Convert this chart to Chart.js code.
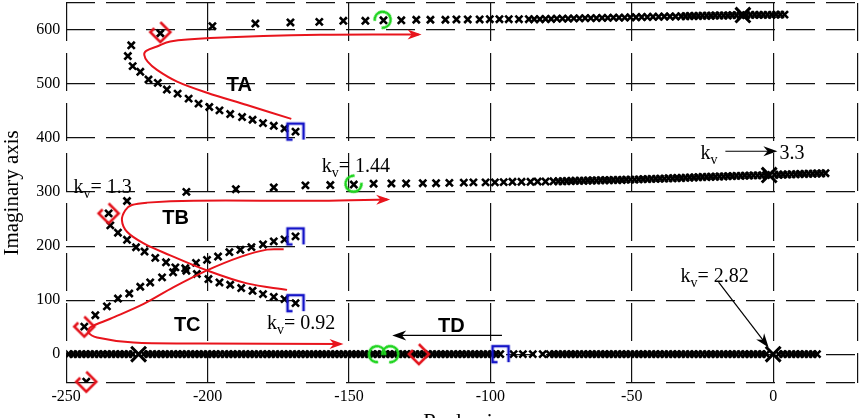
<!DOCTYPE html>
<html>
<head>
<meta charset="utf-8">
<title>Root locus</title>
<script src="https://cdn.jsdelivr.net/npm/chart.js@4.4.1/dist/chart.umd.min.js"></script>
<style>
  html, body { margin: 0; padding: 0; background: #fff; overflow: hidden; }
  #wrap { width: 868px; height: 450px; }
</style>
</head>
<body>
<div id="wrap"><canvas id="locus"></canvas></div>
<script>
// axis ticks (edge values get no label)
const xTicks = [-250, -200, -150, -100, -50, 0];
const yTicks = [0, 100, 200, 300, 400, 500, 600];
const xRange = [-250, 30];
const yRange = [-53, 650];

// locus TA : from the blue start point up and round to the top row
const branchA = [
  [-168.9, 412], [-172.8, 417.7], [-176.6, 422.7], [-180.4, 427.7], [-184.1, 433.9], [-187.8, 438.9],
  [-192, 444.5], [-195.8, 451.2], [-199.4, 457.5], [-203.2, 463.7], [-206.7, 473], [-210.6, 482.3],
  [-214.4, 489.8], [-217.6, 502.2], [-220.9, 508.4], [-223.8, 522.7], [-226.5, 533.1], [-228.2, 551.8],
  [-227, 571.7], [-216.7, 594], [-198.3, 607], [-183.1, 612], [-170.7, 614], [-160.5, 615], [-152, 617],
  [-144.2, 617], [-137.8, 618], [-131.5, 618], [-126.2, 619], [-121.2, 619], [-115.9, 619], [-112, 619.5],
  [-108, 619.5], [-103.8, 619.5], [-100.2, 620], [-96.8, 620], [-93.5, 620], [-89.9, 620], [-86.4, 620]
];
const topRow = [
  [-84.5, 620], [-82.5, 620], [-80.5, 620.5], [-78.5, 620.5], [-76.5, 621], [-74.5, 621], [-72.5, 621],
  [-70.5, 621.5], [-68.5, 621.5], [-66.5, 622], [-64.5, 622], [-62.5, 622], [-60.5, 622.5], [-58.5, 622.5],
  [-56.5, 623], [-54.5, 623], [-52.5, 623], [-50.5, 623.5], [-48.5, 623.5], [-46.5, 624], [-44.5, 624],
  [-42.5, 624.5], [-40.5, 624.5], [-38.5, 625], [-36.5, 625], [-34.5, 625], [-32.5, 625.5], [-31, 625.5],
  [-29.5, 626], [-28, 626], [-26.5, 626], [-25, 626.5], [-23.5, 626.5], [-22, 626.5], [-20.5, 627],
  [-19, 627], [-17.5, 627], [-16, 627], [-14.5, 627.5], [-13, 627.5], [-11.5, 627.5], [-9.5, 627.5],
  [-8, 628], [-6.5, 628], [-5, 628], [-3.5, 628], [-2, 628], [-0.5, 628], [1, 628.5], [2.5, 628.5], [4, 628.5]
];

// locus TB : lower blue point, up-left, then along the 300 row
const branchB = [
  [-168.9, 94.4], [-172.8, 101.9], [-176.6, 106.1], [-180.4, 111.2], [-184.1, 117.3], [-188.1, 122.4],
  [-192, 128.5], [-195.8, 132.8], [-199.7, 139.1], [-203.8, 148.4], [-207.5, 154.5], [-211.4, 160.7],
  [-214.7, 170], [-218.5, 178.2], [-222.3, 189.9], [-225.3, 197.9], [-228.5, 211.7], [-231.7, 224.8],
  [-234.4, 238.4], [-235, 260.6], [-228.5, 283.5], [-207.5, 300.4], [-190, 305.4], [-176.6, 308.6],
  [-165.4, 312.5], [-156.6, 313], [-148.3, 314], [-141.3, 315.5], [-135, 316], [-129.8, 316], [-123.9, 316.5],
  [-119.2, 316.5], [-114.5, 317], [-109.4, 317.5], [-106, 318], [-101.7, 318], [-98.4, 318], [-95.3, 318.5],
  [-92.2, 319], [-89, 319], [-85.8, 319], [-83.3, 319.5], [-80.5, 319.5], [-77.7, 320]
];
const midRow = [
  [-76, 320], [-74.5, 320], [-73, 320.5], [-71.5, 320.5], [-70, 321], [-68.5, 321], [-67, 321], [-65.5, 321.5],
  [-64, 321.5], [-62.5, 321.5], [-61, 322], [-59.5, 322], [-58, 322], [-56.5, 322.5], [-55, 322.5], [-53.5, 322.5],
  [-52, 323], [-50.5, 323], [-49, 323], [-47.5, 323.5], [-46, 324], [-44.5, 324], [-43, 324.5], [-41.5, 324.5],
  [-40, 325], [-38.5, 325], [-37, 325.5], [-35.5, 325.5], [-34, 326], [-32.5, 326], [-31, 326.5], [-29.5, 327],
  [-28, 327], [-26.5, 327.5], [-25, 328], [-23.5, 328], [-22, 328.5], [-20.5, 328.5], [-19, 329], [-17.5, 329],
  [-16, 329.5], [-14.5, 329.5], [-13, 330], [-11.5, 330], [-10, 330.5], [-8.5, 330.5], [-7, 331], [-5.5, 331],
  [-4, 331], [-2.5, 331.5], [0.5, 332], [2, 332], [3.5, 332.5], [5, 332.5], [6.5, 333], [8, 333], [9.5, 333.5],
  [11, 333.5], [12.5, 334], [14, 334], [15.5, 334.5], [17, 334.5], [18.5, 335]
];

// locus TC : upper blue point, down-left to the real axis
const branchC = [
  [-168.9, 218], [-172.8, 212.4], [-176.6, 208.7], [-180.4, 203.1], [-184.5, 198.1], [-188.4, 193.2],
  [-192.3, 188.8], [-196.3, 180.7], [-200.2, 174.6], [-204.1, 169], [-207.9, 158.9], [-212.2, 151.5],
  [-216.1, 142.2], [-220.3, 132.8], [-223.8, 124.8], [-227.7, 112.3], [-231.7, 103], [-235.6, 88.5],
  [-239.7, 72.1], [-243.6, 51], [-242.9, -51]
];

// locus TD : real axis (imaginary part 0)
const realAxis = [
  -249, -247.5, -246, -244.5, -243, -241.5, -240, -238.5, -237, -235.5, -234, -232.5, -231, -229.5, -228, -226.5,
  -222.5, -221, -219.5, -218, -216.5, -215, -213.5, -212, -210.5, -209, -207.5, -206, -204.5, -203, -201.5, -200,
  -198.5, -197, -195.5, -194, -192.5, -191, -189.5, -188, -186.5, -185, -183.5, -182, -180.5, -179, -177.5, -176,
  -174.5, -173, -171.5, -170, -168.5, -167, -165.5, -164, -162.5, -161, -159.5, -158, -156.5, -155, -153.5, -152,
  -150.5, -149, -147.5, -146, -144.5, -143, -141.5, -140, -138.5, -137, -135.5, -134, -132.5, -131, -129.5, -128,
  -126.5, -125, -123.5, -122, -120.5, -119, -117.5, -116, -114.5, -113, -111.5, -110, -108.5, -107, -105.5, -104,
  -102.5, -101, -99.5, -98, -96.5, -91.8, -88.5, -85, -81.5,
  -79, -77.5, -76, -74.5, -73, -71.5, -70, -68.5, -67, -65.5, -64, -62.5, -61, -59.5, -58, -56.5, -55, -53.5, -52,
  -50.5, -49, -47.5, -46, -44.5, -43, -41.5, -40, -38.5, -37, -35.5, -34, -32.5, -31, -29.5, -28, -26.5, -25,
  -23.5, -22, -20.5, -19, -17.5, -16, -14.5, -13, -11.5, -10, -8.5, -7, -5.5, -4, -2.5,
  2, 3.5, 5, 6.5, 8, 9.5, 11, 12.5, 14, 15.5
];

// open-loop poles (big crosses)
const poles = [[-224.4, 0], [0, 0], [-10.7, 627.6], [-1.4, 331.5]];
// special gains
const redMarks = [[-216.7, 596], [-235, 260.6], [-243.6, 51], [-242.9, -51], [-125.3, 0]];
const greenMarks = [[-138.1, 619], [-148.4, 315.4], [-140.1, 0], [-135.4, 0]];
const greenTurn = [135, -45, 45, 135];
const blueMarks = [[-168.9, 412], [-168.9, 218], [-168.9, 94.4], [-96.4, 0]];

// red trend curves
const curveTA = [
  [-170.4, 435.6], [-186.1, 461.1], [-200.2, 483.9], [-210.8, 504.4], [-217.9, 526.1], [-221.2, 541.5],
  [-222.4, 553.9], [-221.7, 561.4], [-217.9, 569.4], [-213.2, 578.7], [-199, 585], [-160.1, 591.1], [-125.4, 591.7]
];
const curveTB = [
  [-171.9, 119], [-186.1, 131], [-200.2, 155], [-213.2, 183], [-222.6, 205], [-228.5, 226.5], [-230.3, 248],
  [-229.1, 266.5], [-226.8, 276], [-221.4, 280.5], [-204.9, 284], [-160.1, 284], [-136.5, 286.5]
];
const curveTC = [
  [-173.1, 194], [-179, 193.5], [-188.4, 180], [-200.2, 155], [-212, 124], [-222.6, 93], [-234.4, 65.5],
  [-241.5, 49.5], [-242.1, 40], [-239.1, 31], [-226.2, 21.5], [-202.6, 19.8], [-153, 18.6]
];

const pts = arr => arr.map(p => ({ x: p[0], y: p[1] }));

// little canvases used as point styles
function makeMark(size, draw) {
  const c = document.createElement('canvas');
  c.width = size; c.height = size;
  draw(c.getContext('2d'), size);
  return c;
}
const redChevron = makeMark(26, (g, s) => {
  const m = s / 2, r = 10;
  g.strokeStyle = '#e3121b'; g.lineWidth = 2.6; g.lineJoin = 'miter';
  g.beginPath();
  g.moveTo(m, m - r); g.lineTo(m + r, m); g.lineTo(m, m + r); g.lineTo(m - r, m); g.lineTo(m - r * 0.6, m - r * 0.4);
  g.stroke();
});
const greenArc = makeMark(24, (g, s) => {
  g.strokeStyle = '#1ed41e'; g.lineWidth = 2.6;
  g.beginPath();
  g.arc(s / 2, s / 2, 8, 0.65, Math.PI * 2 - 0.65);
  g.stroke();
});
const blueBox = makeMark(22, (g, s) => {
  g.strokeStyle = '#1414c8'; g.lineWidth = 2.6;
  g.beginPath();
  g.moveTo(8, 19); g.lineTo(3, 19); g.lineTo(3, 3); g.lineTo(19, 3); g.lineTo(19, 19);
  g.stroke();
});

function crosses(data, order) {
  return {
    data: data, pointStyle: 'crossRot', pointRadius: 5, borderColor: '#000', borderWidth: 2.6,
    showLine: false, order: order
  };
}
function curve(data) {
  return {
    data: pts(data), showLine: true, pointRadius: 0, borderColor: '#e8141c', borderWidth: 2,
    tension: 0.35, fill: false, order: 2, arrowHead: true
  };
}

// arrowhead with a notch, tip at (x, y)
function arrow(ctx, x, y, ang, len, half, color) {
  ctx.save();
  ctx.translate(x, y); ctx.rotate(ang);
  ctx.fillStyle = color;
  ctx.beginPath();
  ctx.moveTo(0, 0); ctx.lineTo(-len, -half); ctx.lineTo(-len * 0.7, 0); ctx.lineTo(-len, half);
  ctx.closePath(); ctx.fill();
  ctx.restore();
}

function kvText(ctx, px, py, rest) {
  ctx.font = '20px "Liberation Serif"';
  ctx.fillText('k', px, py);
  let w = ctx.measureText('k').width;
  ctx.font = '14px "Liberation Serif"';
  ctx.fillText('v', px + w, py + 5);
  w += ctx.measureText('v').width;
  ctx.font = '20px "Liberation Serif"';
  ctx.fillText(rest, px + w, py);
}

const annotations = {
  id: 'annotations',
  afterDatasetsDraw(chart) {
    const { ctx, scales: { x, y } } = chart;
    // arrowheads on the red curves
    chart.data.datasets.forEach((ds, i) => {
      if (!ds.arrowHead) return;
      const el = chart.getDatasetMeta(i).data;
      const a = el[el.length - 2], b = el[el.length - 1];
      arrow(ctx, b.x + 3, b.y, Math.atan2(b.y - a.y, b.x - a.x), 14, 5, '#e8141c');
    });

    ctx.save();
    ctx.fillStyle = '#000';
    ctx.strokeStyle = '#000';
    ctx.textBaseline = 'alphabetic';
    ctx.textAlign = 'left';
    kvText(ctx, x.getPixelForValue(-247.4), y.getPixelForValue(298), '= 1.3');
    kvText(ctx, x.getPixelForValue(-159.6), y.getPixelForValue(338), '= 1.44');
    kvText(ctx, x.getPixelForValue(-179), y.getPixelForValue(46.6), '= 0.92');
    kvText(ctx, x.getPixelForValue(-32.8), y.getPixelForValue(133), '= 2.82');
    kvText(ctx, x.getPixelForValue(-25.7), y.getPixelForValue(361), '');
    ctx.font = '20px "Liberation Serif"';
    ctx.fillText('3.3', x.getPixelForValue(2.2), y.getPixelForValue(361));

    // black arrows
    ctx.lineWidth = 1.2;
    const lines = [
      [-16.9, 375.6, 1.5, 375.6],
      [-19.3, 133.4, -1.6, 12.3],
      [-95.9, 34.6, -134.7, 34.6]
    ];
    lines.forEach(l => {
      const x1 = x.getPixelForValue(l[0]), y1 = y.getPixelForValue(l[1]);
      const x2 = x.getPixelForValue(l[2]), y2 = y.getPixelForValue(l[3]);
      const ang = Math.atan2(y2 - y1, x2 - x1);
      ctx.beginPath();
      ctx.moveTo(x1, y1);
      ctx.lineTo(x2 - Math.cos(ang) * 8, y2 - Math.sin(ang) * 8);
      ctx.stroke();
      arrow(ctx, x2, y2, ang, 14, 5, '#000');
    });

    // branch names
    ctx.font = 'bold 20px "Liberation Sans"';
    ctx.textAlign = 'center';
    ctx.textBaseline = 'middle';
    ctx.fillText('TA', x.getPixelForValue(-188.8), y.getPixelForValue(498));
    ctx.fillText('TB', x.getPixelForValue(-211.3), y.getPixelForValue(252));
    ctx.fillText('TC', x.getPixelForValue(-207.2), y.getPixelForValue(52.7));
    ctx.fillText('TD', x.getPixelForValue(-113.8), y.getPixelForValue(52));
    ctx.restore();
  }
};

Chart.defaults.font.family = '"Liberation Serif"';
Chart.defaults.color = '#000';

new Chart(document.getElementById('locus'), {
  type: 'scatter',
  data: {
    datasets: [
      crosses(pts(branchA), 5),
      crosses(pts(topRow), 5),
      crosses(pts(branchB), 5),
      crosses(pts(midRow), 5),
      crosses(pts(branchC), 5),
      crosses(realAxis.map(v => ({ x: v, y: 0 })), 5),
      { data: pts(poles), pointStyle: 'crossRot', pointRadius: 10.5, borderColor: '#000', borderWidth: 3, order: 4 },
      curve(curveTA),
      curve(curveTB),
      curve(curveTC),
      { data: pts(redMarks), pointStyle: redChevron, pointRadius: 9, order: 1, clip: false },
      { data: pts(greenMarks), pointStyle: greenArc, pointRadius: 9, rotation: greenTurn, order: 1, clip: false },
      { data: pts(blueMarks), pointStyle: blueBox, pointRadius: 9, order: 1, clip: false }
    ]
  },
  options: {
    responsive: true,
    maintainAspectRatio: false,
    animation: false,
    layout: { autoPadding: false, padding: { left: 0, right: 10, top: 3, bottom: 0 } },
    plugins: { legend: { display: false }, tooltip: { enabled: false } },
    scales: {
      x: {
        type: 'linear', min: xRange[0], max: xRange[1],
        afterBuildTicks: s => { s.ticks = xTicks.concat([xRange[1]]).map(v => ({ value: v })); },
        ticks: { font: { size: 16, lineHeight: 1 }, padding: 6, maxRotation: 0, callback: v => xTicks.includes(v) ? String(v) : '' },
        grid: { color: '#111', lineWidth: 1.2, drawTicks: false },
        border: { display: false, dash: [38, 12] },
        title: { display: true, text: 'Real axis', font: { size: 21 }, padding: { top: -1, bottom: 15 } }
      },
      y: {
        type: 'linear', min: yRange[0], max: yRange[1],
        afterBuildTicks: s => { s.ticks = [yRange[0]].concat(yTicks, [yRange[1]]).map(v => ({ value: v })); },
        afterFit: s => { s.paddingTop = 0; },
        ticks: { font: { size: 16 }, padding: 6, callback: v => yTicks.includes(v) ? String(v) : '' },
        grid: { color: '#111', lineWidth: 1.2, drawTicks: false },
        border: { display: false, dash: [29, 11] },
        title: { display: true, text: 'Imaginary axis', font: { size: 21 }, padding: { top: 0, bottom: 5 } }
      }
    }
  },
  plugins: [annotations]
});
</script>
</body>
</html>
